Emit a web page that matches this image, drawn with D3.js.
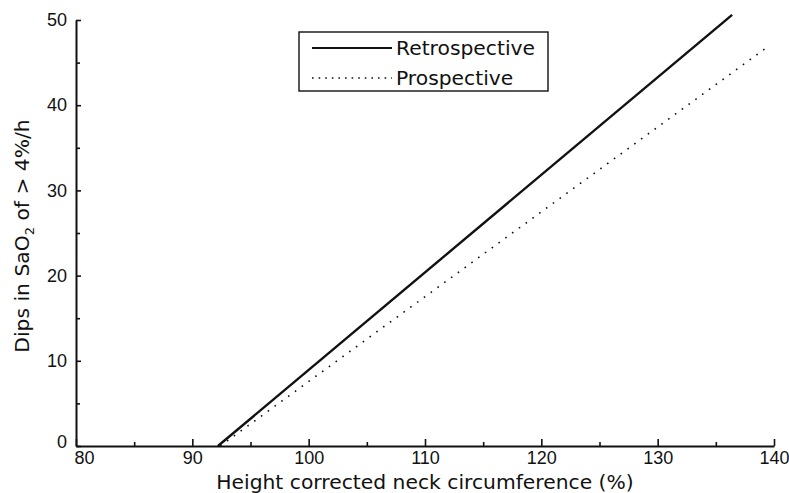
<!DOCTYPE html>
<html lang="en">
<head>
    <meta charset="UTF-8">
    <title>Neck circumference vs SaO2 dips</title>
    <script src="https://d3js.org/d3.v7.min.js"></script>
    <style>
        body { margin: 0; background: #fff; }
        svg { display: block; }
        .label { font-family: "DejaVu Sans", sans-serif; font-size: 20.3px; fill: #111; }
    </style>
</head>
<body>
    <svg id="chart"></svg>
    <script>
        const width = 789;
        const height = 493;
        const ink = "#111";

        // values
        const xTicks = [80, 90, 100, 110, 120, 130, 140];
        const xMinor = [85, 95, 105, 115, 125, 135];
        const yTicks = [0, 10, 20, 30, 40, 50];
        const yMinor = [5, 15, 25, 35, 45];
        const seriesNames = ["Retrospective", "Prospective"];
        const retrospective = [[92.2, 0], [136.4, 50.6]];
        const prospective = [[92.4, 0], [139.5, 46.9]];

        const svg = d3.select("#chart")
            .attr("width", width)
            .attr("height", height);

        const x = d3.scaleLinear().domain([80, 140]).range([76, 774]);
        const y = d3.scaleLinear().domain([0, 50]).range([446, 20]);

        // x axis, ticks point up into the plot
        const xAxis = svg.append("g")
            .attr("transform", `translate(0,${y(0)})`)
            .call(d3.axisBottom(x).tickValues(xTicks).tickSizeInner(-7).tickSizeOuter(0).tickPadding(5));
        svg.append("g")
            .attr("transform", `translate(0,${y(0)})`)
            .call(d3.axisBottom(x).tickValues(xMinor).tickSizeInner(-4).tickSizeOuter(0).tickFormat(""))
            .select(".domain").remove();
        xAxis.selectAll(".tick text").filter(d => d === 80).attr("dx", 8);

        const yAxis = svg.append("g")
            .attr("transform", `translate(${x(80)},0)`)
            .call(d3.axisLeft(y).tickValues(yTicks).tickSizeInner(-5).tickSizeOuter(0).tickPadding(9));
        svg.append("g")
            .attr("transform", `translate(${x(80)},0)`)
            .call(d3.axisLeft(y).tickValues(yMinor).tickSizeInner(-4).tickSizeOuter(0).tickFormat(""))
            .select(".domain").remove();
        yAxis.selectAll(".tick text").filter(d => d === 0).attr("dy", "0.1em");

        svg.selectAll(".tick text")
            .attr("font-family", "Liberation Sans, Arial, sans-serif")
            .attr("font-size", 18)
            .attr("fill", ink);
        svg.selectAll(".domain").attr("stroke", ink).attr("stroke-width", 2);
        svg.selectAll(".tick line").attr("stroke", ink).attr("stroke-width", 1.6);

        // axis titles
        svg.append("text")
            .attr("class", "label")
            .attr("x", 425)
            .attr("y", 489)
            .attr("text-anchor", "middle")
            .text("Height corrected neck circumference (%)");

        const yTitle = svg.append("text")
            .attr("class", "label")
            .attr("transform", "translate(29,236) rotate(-90)")
            .attr("text-anchor", "middle");
        yTitle.append("tspan").text("Dips in SaO");
        yTitle.append("tspan").attr("font-size", "13px").attr("dy", 5).text("2");
        yTitle.append("tspan").attr("dy", -5).text(" of > 4%/h");

        const line = d3.line().x(d => x(d[0])).y(d => y(d[1]));

        svg.append("path")
            .datum(retrospective)
            .attr("d", line)
            .attr("fill", "none")
            .attr("stroke", ink)
            .attr("stroke-width", 2.4);

        svg.append("path")
            .datum(prospective)
            .attr("d", line)
            .attr("fill", "none")
            .attr("stroke", ink)
            .attr("stroke-width", 1.6)
            .attr("stroke-dasharray", "1.6,6.8");

        // legend
        const legend = svg.append("g");
        legend.append("rect")
            .attr("x", 299).attr("y", 32)
            .attr("width", 249).attr("height", 59)
            .attr("fill", "none")
            .attr("stroke", ink)
            .attr("stroke-width", 1.4);

        const rows = legend.selectAll("g.row")
            .data(seriesNames)
            .enter().append("g")
            .attr("class", "row")
            .attr("transform", (d, i) => `translate(0,${48 + i * 30})`);

        rows.append("line")
            .attr("x1", 312).attr("x2", 392)
            .attr("stroke", ink)
            .attr("stroke-width", (d, i) => i === 0 ? 2.2 : 1.6)
            .attr("stroke-dasharray", (d, i) => i === 0 ? null : "1.6,5");

        rows.append("text")
            .attr("class", "label")
            .attr("x", 396)
            .attr("y", 7)
            .text(d => d);
    </script>
</body>
</html>
